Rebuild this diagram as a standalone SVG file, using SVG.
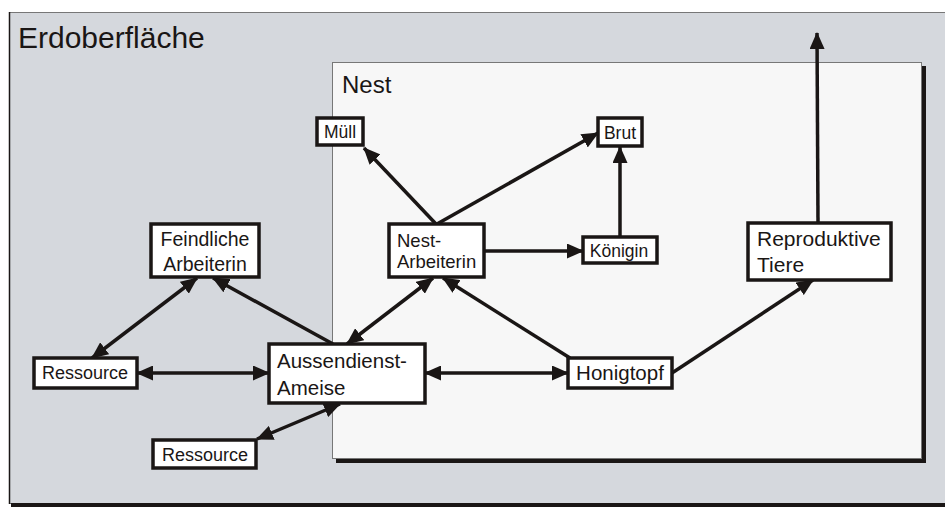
<svg xmlns="http://www.w3.org/2000/svg" width="945" height="507" viewBox="0 0 945 507">
<style>
.node rect{fill:#ffffff;stroke:#1a1615;stroke-width:3.5}
.node text{font-family:"Liberation Sans",Arial,sans-serif;fill:#1a1615}
.edge{stroke:#1a1615;stroke-width:3.5;fill:none}
.uni{marker-end:url(#ah)}
.bi{marker-start:url(#ah);marker-end:url(#ah)}
.title{font-family:"Liberation Sans",Arial,sans-serif;fill:#1a1615}
</style>
<defs>
<marker id="ah" markerUnits="userSpaceOnUse" markerWidth="17" markerHeight="15" refX="16" refY="7.5" orient="auto-start-reverse" viewBox="0 0 17 15">
<path d="M0,0 L17,7.5 L0,15 z" fill="#1a1615"/>
</marker>
</defs>
<rect x="0" y="0" width="945" height="507" fill="#ffffff"/>
<g id="erdoberflaeche">
<rect x="9.5" y="12.5" width="950" height="491" fill="#d5d8dd" stroke="#777777" stroke-width="1"/>
<line x1="9.5" y1="12" x2="9.5" y2="504" stroke="#1a1615" stroke-width="1.5"/>
<rect x="11" y="503" width="934" height="4" fill="#1a1615"/>
<text class="title" x="18" y="48" font-size="30">Erdoberfläche</text>
</g>
<g id="nest">
<rect x="336" y="66" width="590" height="397" fill="#1a1615"/>
<rect x="332.5" y="62.5" width="589" height="396" fill="#f7f7f7" stroke="#777777" stroke-width="1"/>
<text class="title" x="342" y="93" font-size="24">Nest</text>
</g>
<g id="connectors">
<line class="edge uni" x1="436" y1="224" x2="364" y2="148"/>
<line class="edge uni" x1="437" y1="224" x2="598" y2="133"/>
<line class="edge uni" x1="484" y1="251" x2="583" y2="251"/>
<line class="edge uni" x1="620" y1="237" x2="620" y2="147"/>
<line class="edge bi" x1="347" y1="344" x2="433" y2="278"/>
<line class="edge uni" x1="570" y1="358" x2="443" y2="278"/>
<line class="edge bi" x1="425" y1="373" x2="568" y2="373"/>
<line class="edge bi" x1="137" y1="373" x2="269" y2="373"/>
<line class="edge bi" x1="197" y1="278" x2="92" y2="358"/>
<line class="edge uni" x1="333" y1="344" x2="213" y2="278"/>
<line class="edge bi" x1="340" y1="404" x2="257" y2="439"/>
<line class="edge uni" x1="672" y1="373" x2="813" y2="280"/>
<line class="edge uni" x1="818" y1="223" x2="817" y2="33"/>
</g>
<g id="muell" class="node">
<rect x="317" y="118" width="46" height="27"/>
<text x="340" y="138" font-size="17.5" text-anchor="middle">Müll</text>
</g>
<g id="brut" class="node">
<rect x="598" y="118" width="44" height="28"/>
<text x="620" y="139" font-size="17.5" text-anchor="middle">Brut</text>
</g>
<g id="koenigin" class="node">
<rect x="583" y="237" width="74" height="26"/>
<text x="619" y="257" font-size="17.5" text-anchor="middle">Königin</text>
</g>
<g id="nest-arbeiterin" class="node">
<rect x="389" y="224" width="95" height="53"/>
<text x="397" y="247" font-size="18.5">Nest-</text>
<text x="397" y="268" font-size="18.5">Arbeiterin</text>
</g>
<g id="feindliche-arbeiterin" class="node">
<rect x="151" y="224" width="108" height="53"/>
<text x="205" y="246" font-size="19.5" text-anchor="middle">Feindliche</text>
<text x="205" y="271" font-size="19.5" text-anchor="middle">Arbeiterin</text>
</g>
<g id="ressource1" class="node">
<rect x="34" y="358" width="103" height="30"/>
<text x="85" y="379" font-size="18" text-anchor="middle">Ressource</text>
</g>
<g id="aussendienst-ameise" class="node">
<rect x="269" y="344" width="156" height="59"/>
<text x="277" y="368" font-size="20.5">Aussendienst-</text>
<text x="277" y="395" font-size="20.5">Ameise</text>
</g>
<g id="ressource2" class="node">
<rect x="153" y="440" width="103" height="28"/>
<text x="205" y="461" font-size="18" text-anchor="middle">Ressource</text>
</g>
<g id="honigtopf" class="node">
<rect x="568" y="358" width="104" height="30"/>
<text x="620" y="380" font-size="20.5" text-anchor="middle">Honigtopf</text>
</g>
<g id="reproduktive-tiere" class="node">
<rect x="748" y="223" width="143" height="57"/>
<text x="757" y="246" font-size="21">Reproduktive</text>
<text x="757" y="272" font-size="21">Tiere</text>
</g>
</svg>
